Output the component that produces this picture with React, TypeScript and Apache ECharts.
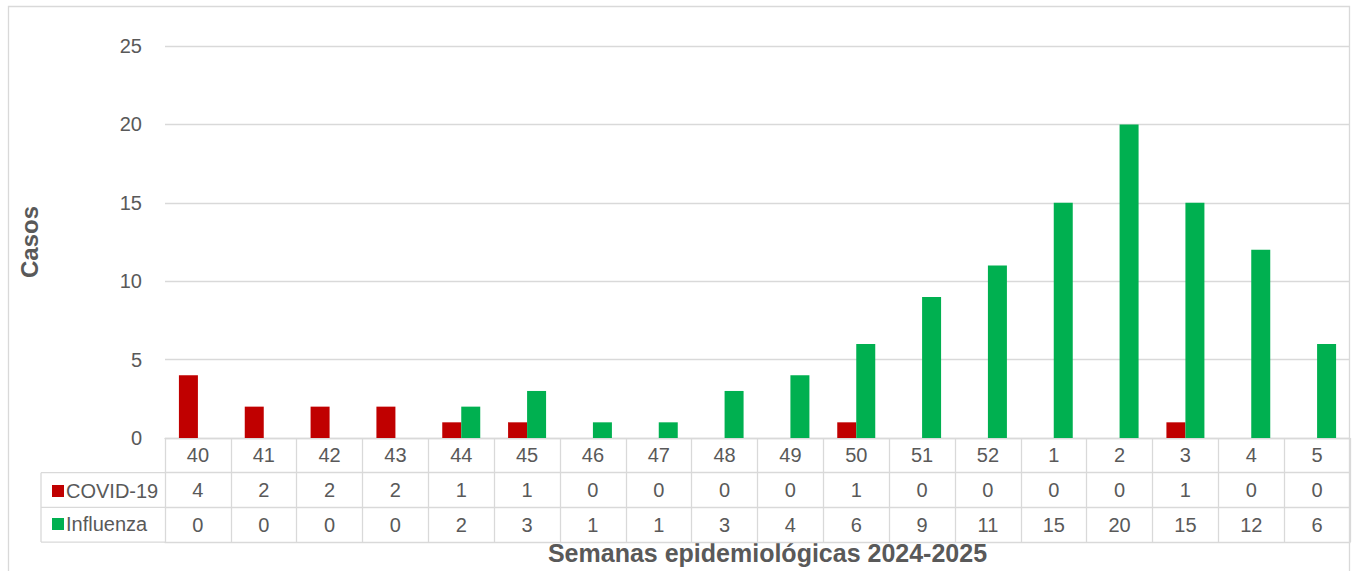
import React, { useEffect, useRef } from "react";
import * as echarts from "echarts";

const weeks = ["40","41","42","43","44","45","46","47","48","49","50","51","52","1","2","3","4","5"];
const covid = [4,2,2,2,1,1,0,0,0,0,1,0,0,0,0,1,0,0];
const influenza = [0,0,0,0,2,3,1,1,3,4,6,9,11,15,20,15,12,6];
const seriesNames = ["COVID-19", "Influenza"];
const yTitle = "Casos";
const xTitle = "Semanas epidemiológicas 2024-2025";

const TXT = "#595959";
const LINE = "#d9d9d9";
const FONT = "Liberation Sans";

export default function App() {
  const ref = useRef<HTMLDivElement>(null);
  useEffect(() => {
    const chart = echarts.init(ref.current!, null, { renderer: "svg" });
    const gridLeft = 165, gridRight = 4, gridTop = 46, gridBottom = 133;
    const rowH = 34.7;
    const axisY = 571 - gridBottom;
    const catAxis = (data: string[], offset: number, showLabel: boolean, extra: any = {}) => ({
      type: "category",
      data,
      position: "bottom",
      offset,
      boundaryGap: true,
      axisLine: { show: true, lineStyle: { color: LINE, width: 1.3 } },
      axisTick: { show: false },
      axisLabel: {
        show: showLabel,
        interval: 0,
        color: TXT,
        fontSize: 20,
        fontFamily: FONT,
        margin: rowH / 2,
        verticalAlign: "middle",
      },
      splitLine: { show: false },
      ...extra,
    });
    chart.setOption({
      animation: false,
      textStyle: { fontFamily: FONT },
      grid: { left: gridLeft, right: gridRight, top: gridTop, bottom: gridBottom },
      legend: {
        data: seriesNames,
        orient: "vertical",
        left: 47,
        top: 476,
        itemWidth: 12,
        itemHeight: 12,
        itemGap: 13,
        icon: "rect",
        textStyle: { color: TXT, fontSize: 20, fontFamily: FONT, padding: [0, 0, 0, -3] },
        selectedMode: false,
      },
      xAxis: [
        catAxis(weeks, 0, true, {
          axisTick: { show: true, length: rowH * 3, lineStyle: { color: LINE, width: 1.3 } },
        }),
        catAxis(covid.map(String), rowH, true),
        catAxis(influenza.map(String), rowH * 2, true),
        catAxis(weeks.map(() => ""), rowH * 3, false, {
          name: xTitle,
          nameLocation: "middle",
          nameGap: 11,
          nameTextStyle: { color: TXT, fontSize: 25, fontWeight: "bold", fontFamily: FONT, verticalAlign: "middle", padding: [0, 0, 0, 20] },
        }),
      ],
      yAxis: {
        type: "value",
        min: 0,
        max: 25,
        interval: 5,
        axisLine: { show: false },
        axisTick: { show: false },
        axisLabel: { color: TXT, fontSize: 20, fontFamily: FONT, margin: 23 },
        splitLine: { lineStyle: { color: LINE, width: 1.3 } },
        name: yTitle,
        nameLocation: "middle",
        nameGap: 124,
        nameTextStyle: { color: TXT, fontSize: 24, fontWeight: "bold", fontFamily: FONT },
      },
      series: [
        { name: seriesNames[0], type: "bar", data: covid, barWidth: 19, barGap: "0%", itemStyle: { color: "#c00000" } },
        { name: seriesNames[1], type: "bar", data: influenza, barWidth: 19, barGap: "0%", itemStyle: { color: "#00b050" } },
      ],
      graphic: [
        { type: "rect", shape: { x: 8.5, y: 6.5, width: 1341, height: 580 }, style: { fill: "none", stroke: LINE, lineWidth: 1.3 }, silent: true },
        { type: "line", shape: { x1: 41, y1: axisY + rowH, x2: gridLeft, y2: axisY + rowH }, style: { stroke: LINE, lineWidth: 1.3 } },
        { type: "line", shape: { x1: 41, y1: axisY + rowH * 2, x2: gridLeft, y2: axisY + rowH * 2 }, style: { stroke: LINE, lineWidth: 1.3 } },
        { type: "line", shape: { x1: 41, y1: axisY + rowH * 3, x2: gridLeft, y2: axisY + rowH * 3 }, style: { stroke: LINE, lineWidth: 1.3 } },
        { type: "line", shape: { x1: 41, y1: axisY + rowH, x2: 41, y2: axisY + rowH * 3 }, style: { stroke: LINE, lineWidth: 1.3 } },
      ],
    });
    return () => chart.dispose();
  }, []);
  return (
    <div
      ref={ref}
      style={{ position: "absolute", left: 0, top: 0, width: 1354, height: 571, background: "#fff" }}
    />
  );
}
